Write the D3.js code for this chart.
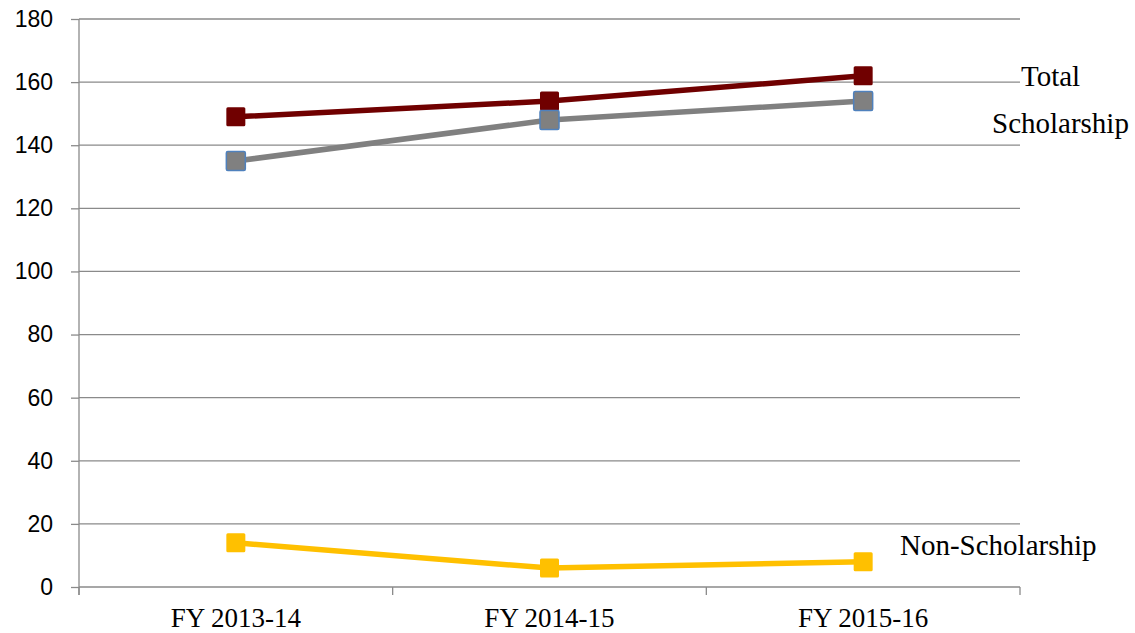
<!DOCTYPE html>
<html>
<head>
<meta charset="utf-8">
<script src="https://cdn.jsdelivr.net/npm/d3@7"></script>
<style>
  html, body { margin: 0; padding: 0; background: #fff; }
  svg { display: block; }
</style>
</head>
<body>
<svg id="chart" width="1135" height="633"></svg>
<script>
// Enrolment by fiscal year
const categories = ["FY 2013-14", "FY 2014-15", "FY 2015-16"];
const totalValues = [149, 154, 162];
const scholarshipValues = [135, 148, 154];
const nonScholarshipValues = [14, 6, 8];
const yTicks = [0, 20, 40, 60, 80, 100, 120, 140, 160, 180];

const svg = d3.select("#chart");
const margin = { left: 79, right: 1020, top: 19, bottom: 587 };

const x = d3.scaleBand().domain(categories).range([margin.left, margin.right]);
const y = d3.scaleLinear().domain([0, 180]).range([margin.bottom, margin.top]);

const gridColor = "#8a8a8a";

// horizontal gridlines with left tick stubs
const yAxis = d3.axisLeft(y).tickValues(yTicks).tickSize(8).tickPadding(18);
const yg = svg.append("g").attr("transform", `translate(${margin.left},0)`).call(yAxis);
yg.select(".domain").remove();
yg.selectAll(".tick line").attr("stroke", gridColor).attr("stroke-width", 1.3);
yg.selectAll(".tick text")
  .attr("font-family", "'Liberation Sans', Arial, sans-serif")
  .attr("font-size", 23)
  .attr("fill", "#000");
svg.append("g").selectAll("line").data(yTicks).join("line")
  .attr("x1", margin.left).attr("x2", margin.right)
  .attr("y1", d => y(d)).attr("y2", d => y(d))
  .attr("stroke", gridColor).attr("stroke-width", 1.3);

// vertical axis line
svg.append("line")
  .attr("x1", margin.left).attr("x2", margin.left)
  .attr("y1", y(180)).attr("y2", y(0) + 8)
  .attr("stroke", gridColor).attr("stroke-width", 1.3);

// category boundary ticks below the baseline
const boundaries = d3.range(categories.length + 1).map(i => margin.left + i * x.bandwidth());
svg.append("g").selectAll("line").data(boundaries).join("line")
  .attr("x1", d => d).attr("x2", d => d)
  .attr("y1", y(0)).attr("y2", y(0) + 8)
  .attr("stroke", gridColor).attr("stroke-width", 1.3);

// category labels
svg.append("g").selectAll("text").data(categories).join("text")
  .attr("x", d => x(d) + x.bandwidth() / 2)
  .attr("y", 627)
  .attr("text-anchor", "middle")
  .attr("font-family", "'Liberation Serif', 'Times New Roman', serif")
  .attr("font-size", 27)
  .attr("fill", "#000")
  .text(d => d);

const cx = d => x(d) + x.bandwidth() / 2;

const series = [
  { name: "Total", values: totalValues, color: "#700000", stroke: "#700000" },
  { name: "Scholarship", values: scholarshipValues, color: "#808080", stroke: "#4f81bd" },
  { name: "Non-Scholarship", values: nonScholarshipValues, color: "#ffc000", stroke: "#ffc000" }
];

const line = d3.line().x(d => cx(d.cat)).y(d => y(d.v));
const ms = 19;

series.forEach(s => {
  const pts = categories.map((c, i) => ({ cat: c, v: s.values[i] }));
  svg.append("path").datum(pts)
    .attr("d", line)
    .attr("fill", "none")
    .attr("stroke", s.color)
    .attr("stroke-width", 5.5);
  svg.append("g").selectAll("rect").data(pts).join("rect")
    .attr("x", d => cx(d.cat) - ms / 2)
    .attr("y", d => y(d.v) - ms / 2)
    .attr("width", ms).attr("height", ms)
    .attr("rx", 1.5)
    .attr("fill", s.color)
    .attr("stroke", s.stroke)
    .attr("stroke-width", s.stroke === s.color ? 0 : 1.5);
});

// series annotations
const serif = "'Liberation Serif', 'Times New Roman', serif";
const notes = [
  { text: "Total", x: 1021, y: 86 },
  { text: "Scholarship", x: 992, y: 133 },
  { text: "Non-Scholarship", x: 900, y: 555 }
];
svg.append("g").selectAll("text").data(notes).join("text")
  .attr("x", d => d.x).attr("y", d => d.y)
  .attr("font-family", serif)
  .attr("font-size", 29)
  .attr("fill", "#000")
  .text(d => d.text);
</script>
</body>
</html>
